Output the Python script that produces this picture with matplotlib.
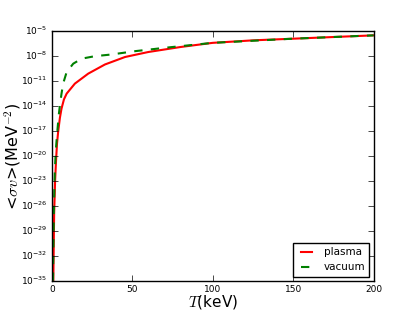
import matplotlib
matplotlib.use('Agg')
import matplotlib.pyplot as plt
import numpy as np

# temperatures (keV) and log10 of <sigma v>
T_plasma = [0.9, 1.4, 2.0, 2.6, 3.2, 3.9, 5, 6, 7.5, 9.2, 14.3, 22.6, 33,
            45.5, 60, 80, 100, 125, 150, 175, 200]
log_plasma = [-35, -27, -23, -20.5, -18.5, -17.1, -15.4, -14.3, -13.2, -12.5,
              -11.3, -10.1, -9.0, -8.1, -7.5, -6.9, -6.4, -6.1, -5.9, -5.7, -5.5]

T_vacuum = [0.7, 1.2, 1.8, 2.4, 2.9, 3.5, 4.2, 5, 6, 7, 9.2, 13.3, 18.5,
            26.8, 37, 51.7, 70, 100, 150, 200]
log_vacuum = [-35, -27, -22, -19.5, -18.2, -16.8, -15.2, -13.9, -12.5, -11.3,
              -9.9, -8.9, -8.3, -8.0, -7.8, -7.4, -7.0, -6.4, -5.9, -5.5]

y_exps = list(range(-35, -4, 3))
x_ticks = [0, 50, 100, 150, 200]

plt.style.use('classic')
plt.rcParams['mathtext.fontset'] = 'cm'

fig = plt.figure(figsize=(4.15, 3.12), dpi=100, facecolor='white')
ax = fig.add_subplot(111)

ax.semilogy(T_plasma, 10.0 ** np.array(log_plasma), 'r-', lw=1.5, label='plasma')
ax.semilogy(T_vacuum, 10.0 ** np.array(log_vacuum), 'g--', lw=1.5, label='vacuum')

ax.set_xlim(0, 200)
ax.set_ylim(1e-35, 1e-5)
ax.set_xticks(x_ticks)
ax.set_yticks([10.0 ** e for e in y_exps])
ax.set_yticklabels([r'$\mathregular{10^{%d}}$' % e for e in y_exps])
ax.yaxis.set_minor_locator(matplotlib.ticker.NullLocator())
ax.tick_params(axis='x', labelsize=6.5, pad=3)
ax.tick_params(axis='y', labelsize=6.5, pad=3)

ax.set_xlabel(r'$T$(keV)', fontsize=11)
ax.set_ylabel(r'<$\sigma v$>(MeV$^{-2}$)', fontsize=11.5)
ax.xaxis.set_label_coords(0.5, -0.05)
ax.yaxis.set_label_coords(-0.09, 0.5)

ax.legend(loc='lower right', fontsize=7.5, handlelength=1.7, borderaxespad=0.4)

fig.savefig('out.png', dpi=100, facecolor='white')
